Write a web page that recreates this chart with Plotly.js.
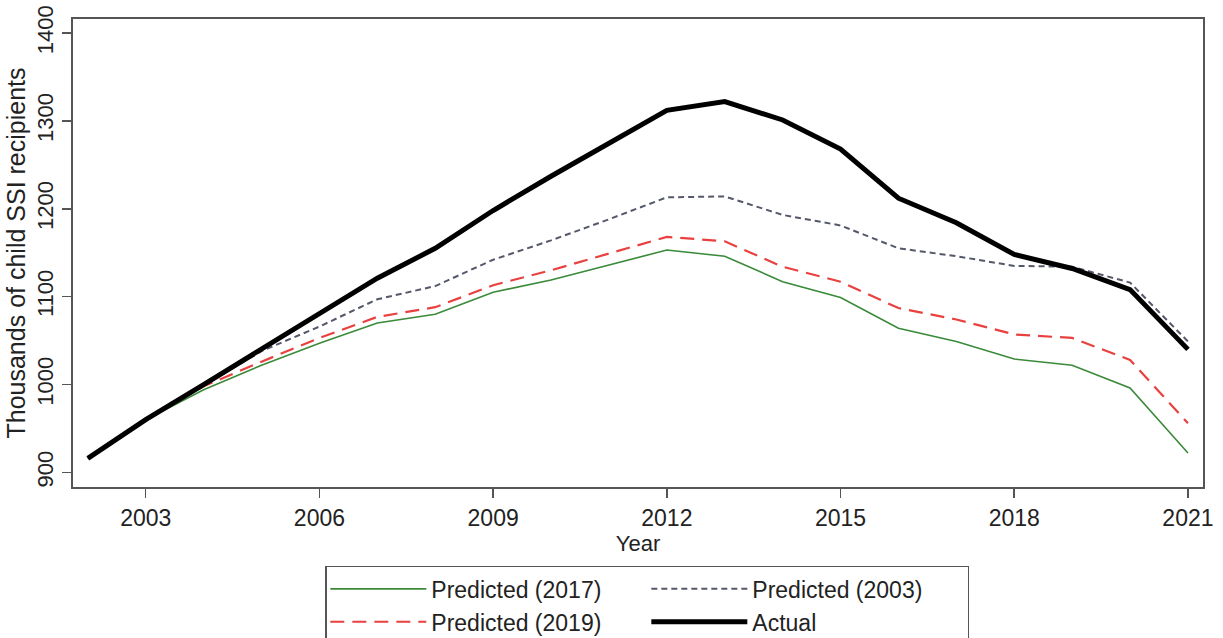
<!DOCTYPE html>
<html>
<head>
<meta charset="utf-8">
<script src="https://cdn.plot.ly/plotly-3.0.1.min.js"></script>
<style>
  body { margin: 0; background: #fff; }
  #chart { width: 1223px; height: 638px; }
</style>
</head>
<body>
<div id="chart"></div>
<script>
// values (thousands of recipients)
const years = [2002, 2003, 2004, 2005, 2006, 2007, 2008, 2009, 2010, 2011,
  2012, 2013, 2014, 2015, 2016, 2017, 2018, 2019, 2020, 2021];

const actual = [916, 960, 1000, 1040, 1081, 1121, 1155, 1198, 1237, 1275,
  1312, 1322, 1301, 1268, 1212, 1184, 1148, 1132, 1108, 1040];
const pred2003 = [916, 960, 999, 1038, 1066, 1097, 1112, 1142, 1164, 1188,
  1213, 1214, 1193, 1181, 1155, 1146, 1135, 1134, 1116, 1049];
const pred2019 = [916, 960, 998, 1026, 1053, 1077, 1088, 1113, 1130, 1149,
  1168, 1163, 1134, 1117, 1087, 1074, 1057, 1053, 1028, 956];
const pred2017 = [916, 960, 994, 1022, 1047, 1070, 1080, 1105, 1119, 1136,
  1153, 1146, 1117, 1099, 1064, 1049, 1029, 1022, 996, 922];

const xTicks = [2003, 2006, 2009, 2012, 2015, 2018, 2021];
const yTicks = [900, 1000, 1100, 1200, 1300, 1400];

const font = 'Liberation Sans, Arial, sans-serif';

// legend groups give the two columns: a = left, b = right
var traces = [
  { x: years, y: pred2017, name: 'Predicted (2017)', mode: 'lines', legendgroup: 'a',
    line: { color: '#3a8a3a', width: 1.6 } },
  { x: years, y: pred2019, name: 'Predicted (2019)', mode: 'lines', legendgroup: 'a',
    line: { color: '#e8413f', width: 2.2, dash: '14px,8px' } },
  { x: years, y: pred2003, name: 'Predicted (2003)', mode: 'lines', legendgroup: 'b',
    line: { color: '#55586a', width: 2, dash: '6px,4px' } },
  { x: years, y: actual, name: 'Actual', mode: 'lines', legendgroup: 'b',
    line: { color: '#000000', width: 5 } }
];

var layout = {
  width: 1223,
  height: 638,
  margin: { l: 73, r: 20, t: 19, b: 151 },
  paper_bgcolor: '#fff',
  plot_bgcolor: '#fff',
  font: { family: font, size: 22, color: '#222' },
  showlegend: true,
  legend: {
    orientation: 'h',
    traceorder: 'grouped',
    xref: 'container', yref: 'container',
    x: 0.266, xanchor: 'left',
    y: 0.113, yanchor: 'top',
    itemwidth: 96,
    entrywidth: 210,
    tracegroupgap: 0,
    bordercolor: '#555',
    borderwidth: 1.5,
    bgcolor: '#fff',
    font: { family: font, size: 23, color: '#222' }
  },
  xaxis: {
    range: [2001.744, 2021.26],
    tickvals: xTicks,
    ticks: 'outside', ticklen: 9, tickwidth: 1.5, tickcolor: '#555',
    showgrid: false, zeroline: false,
    showline: true, mirror: true, linecolor: '#555', linewidth: 2,
    tickfont: { family: font, size: 23, color: '#222' },
    title: { text: 'Year', standoff: 0, font: { family: font, size: 22, color: '#222' } }
  },
  yaxis: {
    range: [883.4, 1415.9],
    tickvals: yTicks,
    tickangle: -90,
    ticks: 'outside', ticklen: 9, tickwidth: 1.5, tickcolor: '#555',
    showgrid: false, zeroline: false,
    showline: true, mirror: true, linecolor: '#555', linewidth: 2,
    tickfont: { family: font, size: 22, color: '#222' },
    title: { text: 'Thousands of child SSI recipients', standoff: 0,
      font: { family: font, size: 25, color: '#222' } }
  }
};

Plotly.newPlot('chart', traces, layout, { staticPlot: true });
</script>
</body>
</html>
